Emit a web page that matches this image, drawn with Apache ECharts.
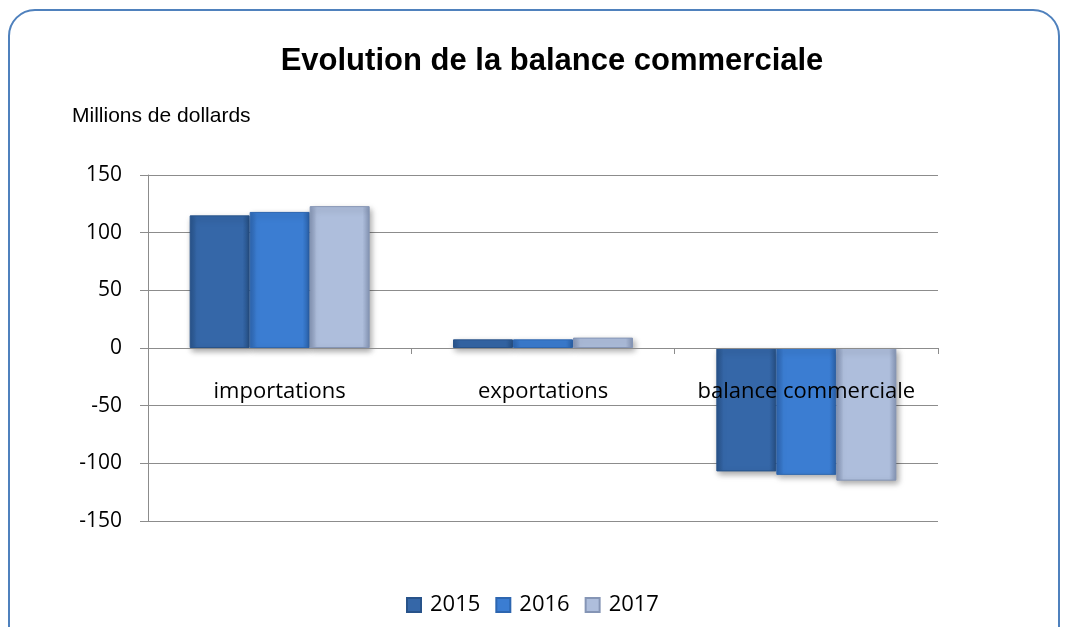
<!DOCTYPE html>
<html>
<head>
<meta charset="utf-8">
<script src="https://cdn.jsdelivr.net/npm/echarts@6/dist/echarts.min.js"></script>
<style>
  html, body { margin: 0; padding: 0; background: #ffffff; }
  #chart { width: 1069px; height: 627px; }
</style>
</head>
<body>
<div id="chart"></div>
<script>
const categories = ['importations', 'exportations', 'balance commerciale']
const years = ['2015', '2016', '2017']
const values2015 = [115, 7.5, -107]
const values2016 = [118, 7.5, -110]
const values2017 = [123, 9, -115]
const yTicks = [-150, -100, -50, 0, 50, 100, 150]

// base colours per year: [edge, centre]
const palette = {
  '2015': ['#28538a', '#3567a8'],
  '2016': ['#2d66b0', '#3b7dd2'],
  '2017': ['#8595b5', '#aebedc'],
}

function barFill(year) {
  const [edge, mid] = palette[year]
  return new echarts.graphic.LinearGradient(0, 0, 1, 0, [
    { offset: 0, color: edge },
    { offset: 0.12, color: mid },
    { offset: 0.88, color: mid },
    { offset: 1, color: edge },
  ])
}

function makeSeries(year, data) {
  return {
    name: year,
    type: 'bar',
    data: data,
    barWidth: 60,
    barGap: '0%',
    itemStyle: {
      color: barFill(year),
      borderColor: palette[year][0],
      borderWidth: 1,
      shadowBlur: 6,
      shadowColor: 'rgba(0,0,0,0.35)',
      shadowOffsetX: 2,
      shadowOffsetY: 3,
    },
  }
}

const chart = echarts.init(document.getElementById('chart'))
chart.setOption({
  animation: false,
  graphic: [
    {
      type: 'rect',
      shape: { x: 9, y: 10, width: 1050, height: 660, r: 26 },
      style: { fill: 'none', stroke: '#4f81bd', lineWidth: 2 },
      z: -1,
    },
    {
      type: 'text',
      x: 552,
      y: 61,
      style: {
        text: 'Evolution de la balance commerciale',
        font: 'bold 31px "Liberation Sans", Arial, sans-serif',
        fill: '#000000',
        align: 'center',
        verticalAlign: 'middle',
      },
    },
    {
      type: 'text',
      x: 72,
      y: 116,
      style: {
        text: 'Millions de dollards',
        font: '21px "Liberation Sans", Arial, sans-serif',
        fill: '#000000',
        verticalAlign: 'middle',
      },
    },
  ],
  legend: {
    bottom: 6,
    left: 401,
    itemWidth: 14,
    itemHeight: 14,
    itemGap: 15,
    icon: 'rect',
    textStyle: {
      fontFamily: '"Open Sans", sans-serif',
      fontSize: 22,
      color: '#000000',
      padding: [0, 0, 0, 4],
    },
    data: years,
  },
  grid: {
    left: 148,
    right: 131,
    top: 175,
    bottom: 106,
  },
  xAxis: {
    type: 'category',
    data: categories,
    z: 10,
    axisLine: { onZero: true, lineStyle: { color: '#8c8c8c', width: 1 } },
    axisTick: { show: true, interval: 0, length: 6, lineStyle: { color: '#8c8c8c' } },
    axisLabel: {
      // labels sit under the zero line, not at the grid bottom
      interval: 0,
      hideOverlap: false,
      margin: -140,
      fontFamily: '"Open Sans", sans-serif',
      fontSize: 22,
      color: '#000000',
    },
  },
  yAxis: {
    type: 'value',
    min: yTicks[0],
    max: yTicks[yTicks.length - 1],
    interval: 50,
    axisLine: { show: true, lineStyle: { color: '#8c8c8c' } },
    axisTick: { show: true, length: 8, lineStyle: { color: '#8c8c8c' } },
    splitLine: { lineStyle: { color: '#8c8c8c', width: 1 } },
    axisLabel: {
      margin: 26,
      fontFamily: '"Open Sans", sans-serif',
      fontSize: 21,
      color: '#000000',
    },
  },
  series: [
    makeSeries('2015', values2015),
    makeSeries('2016', values2016),
    makeSeries('2017', values2017),
  ],
})
</script>
</body>
</html>
